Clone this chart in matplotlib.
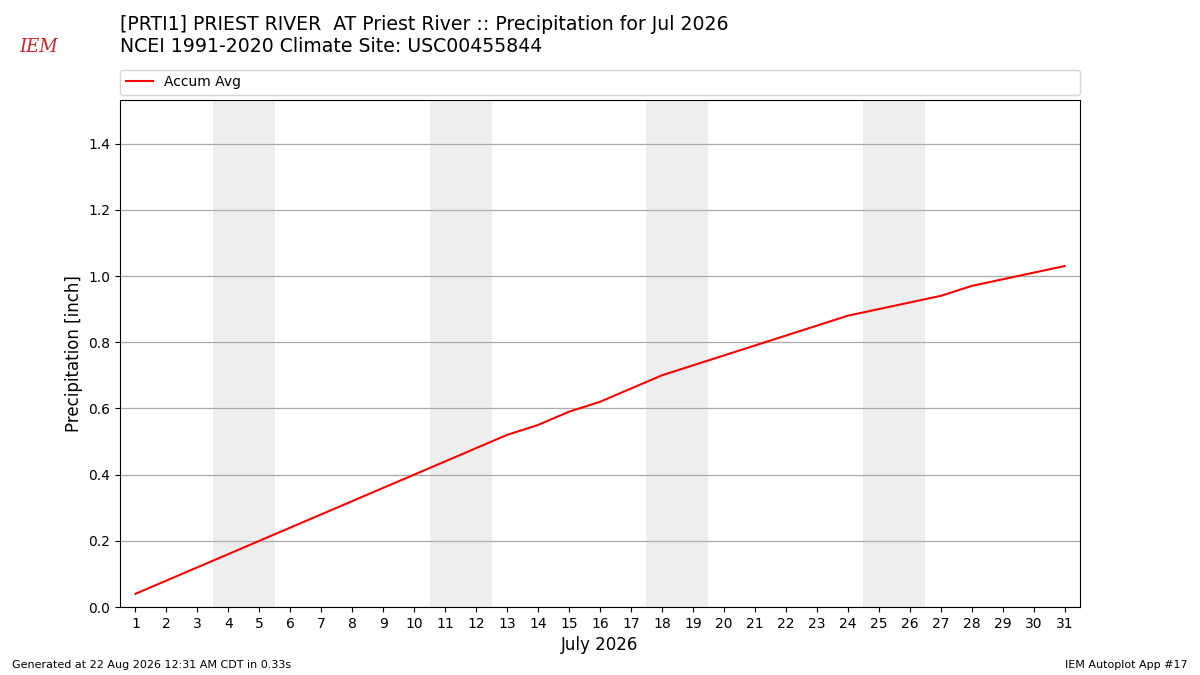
import numpy as np
import matplotlib.pyplot as plt

# Data
days = list(range(1, 32))
accum_avg = [0.04, 0.08, 0.12, 0.16, 0.20, 0.24, 0.28, 0.32, 0.36, 0.40,
             0.44, 0.48, 0.52, 0.55, 0.59, 0.62, 0.66, 0.70, 0.73, 0.76,
             0.79, 0.82, 0.85, 0.88, 0.90, 0.92, 0.94, 0.97, 0.99, 1.01, 1.03]
weekends = [(4, 5), (11, 12), (18, 19), (25, 26)]

title = ("[PRTI1] PRIEST RIVER  AT Priest River :: Precipitation for Jul 2026\n"
         "NCEI 1991-2020 Climate Site: USC00455844")

fig = plt.figure(figsize=(12, 6.75), dpi=100)
ax = fig.add_axes([0.1, 0.1007, 0.8, 0.7513])

for a, b in weekends:
    ax.axvspan(a - 0.5, b + 0.5, color="#eeeeee", zorder=0, lw=0)

ax.plot(days, accum_avg, color="r", lw=1.5, label="Accum Avg", zorder=3)

ax.set_xlim(0.5, 31.5)
ax.set_ylim(0, 1.532)
ax.set_xticks(days)
ax.set_yticks(np.arange(0, 1.41, 0.2))
ax.grid(axis="y", color="#aaaaaa", lw=0.9)
ax.set_axisbelow(True)
ax.tick_params(labelsize=10)
ax.set_ylabel("Precipitation [inch]", fontsize=12)
ax.set_xlabel("July 2026", fontsize=12)

ax.legend(loc="lower left", bbox_to_anchor=(0, 1.01, 1, 0.05), mode="expand",
          ncol=1, fontsize=10, borderaxespad=0, handlelength=2.0)

fig.text(0.1, 0.917, title, fontsize=13.6, va="bottom", ha="left")

# logo stand-in
fig.text(0.032, 0.93, "IEM", fontsize=13, color="#cc2222", family="serif",
         style="italic", ha="center", va="center")

fig.text(0.01, 0.01, "Generated at 22 Aug 2026 12:31 AM CDT in 0.33s", fontsize=8)
fig.text(0.99, 0.01, "IEM Autoplot App #17", fontsize=8, ha="right")

fig.savefig("out.png", dpi=100)
